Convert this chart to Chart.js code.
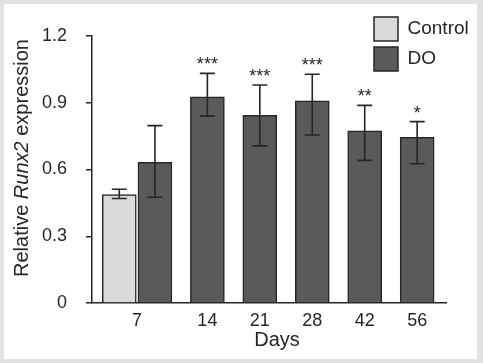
<!DOCTYPE html>
<html>
<head>
<meta charset="utf-8">
<script src="https://cdn.jsdelivr.net/npm/chart.js@4.4.1/dist/chart.umd.min.js"></script>
<style>
    body { margin: 0; background: #e2e2e2; }
    #frame { position: absolute; left: 4px; top: 4px; width: 473px; height: 355px; background: #fff; }
</style>
</head>
<body>
<div id="frame"><canvas id="runxChart" width="473" height="355"></canvas></div>
<script>
// Datos
var days = ['7', '14', '21', '28', '42', '56'];
var controlValues = [0.487];
var controlErrUp = [0.024];
var controlErrDown = [0.017];
var doValues = [0.632, 0.927, 0.843, 0.909, 0.774, 0.745];
var doErrUp = [0.165, 0.105, 0.137, 0.119, 0.114, 0.070];
var doErrDown = [0.157, 0.087, 0.137, 0.154, 0.133, 0.119];
var significance = ['', '***', '***', '***', '**', '*'];
var yTicks = [0, 0.3, 0.6, 0.9, 1.2];
var yTickLabels = ['0', '0.3', '0.6', '0.9', '1.2'];

var CONTROL_SHIFT = -0.68; // control bar sits left of the DO bar at day 7
var INK = '#262626';

Chart.defaults.font.family = '"Liberation Sans", Arial, sans-serif';
Chart.defaults.color = INK;

// posiciones de las etiquetas del eje x (dia 7 centrado entre las dos barras)
var xTickPos = days.map(function (d, i) { return i === 0 ? CONTROL_SHIFT / 2 : i; });

var errorBars = {
    id: 'errorBars',
    afterDatasetsDraw: function (chart) {
        var ctx = chart.ctx;
        var yScale = chart.scales.y;
        var sets = [
            { values: controlValues, up: controlErrUp, down: controlErrDown, stars: null },
            { values: doValues, up: doErrUp, down: doErrDown, stars: significance }
        ];
        ctx.save();
        ctx.strokeStyle = INK;
        ctx.lineWidth = 1.6;
        sets.forEach(function (s, di) {
            var meta = chart.getDatasetMeta(di);
            meta.data.forEach(function (bar, i) {
                var x = bar.x;
                var top = yScale.getPixelForValue(s.values[i] + s.up[i]);
                var bot = yScale.getPixelForValue(s.values[i] - s.down[i]);
                ctx.beginPath();
                ctx.moveTo(x, top); ctx.lineTo(x, bot);
                ctx.moveTo(x - 7.5, top); ctx.lineTo(x + 7.5, top);
                ctx.moveTo(x - 7.5, bot); ctx.lineTo(x + 7.5, bot);
                ctx.stroke();
                if (s.stars && s.stars[i]) {
                    ctx.fillStyle = INK;
                    ctx.font = '18px "Liberation Sans", Arial, sans-serif';
                    ctx.textAlign = 'center';
                    ctx.textBaseline = 'alphabetic';
                    ctx.fillText(s.stars[i], x, top - 3);
                }
            });
        });
        ctx.restore();
    }
};

var axisTitles = {
    id: 'axisTitles',
    afterDraw: function (chart) {
        var ctx = chart.ctx;
        ctx.save();
        ctx.fillStyle = INK;
        // titulo eje y con Runx2 en cursiva
        var parts = [
            { t: 'Relative ', f: '20px "Liberation Sans", Arial, sans-serif' },
            { t: 'Runx2', f: 'italic 20px "Liberation Sans", Arial, sans-serif' },
            { t: ' expression', f: '20px "Liberation Sans", Arial, sans-serif' }
        ];
        var total = 0;
        parts.forEach(function (p) { ctx.font = p.f; p.w = ctx.measureText(p.t).width; total += p.w; });
        ctx.translate(18, 154);
        ctx.rotate(-Math.PI / 2);
        ctx.textAlign = 'left';
        ctx.textBaseline = 'middle';
        var cx = -total / 2;
        parts.forEach(function (p) { ctx.font = p.f; ctx.fillText(p.t, cx, 0); cx += p.w; });
        ctx.restore();

        ctx.save();
        ctx.fillStyle = INK;
        ctx.font = '20px "Liberation Sans", Arial, sans-serif';
        ctx.textAlign = 'center';
        ctx.textBaseline = 'middle';
        ctx.fillText('Days', 273, 336);
        ctx.restore();
    }
};

var legendPlacer = {
    id: 'legendPlacer',
    afterLayout: function (chart) {
        var lg = chart.legend;
        lg.left = 364;
        lg.top = 7;
        lg.right = 473;
        lg.bottom = 90;
    }
};

var ctx = document.getElementById('runxChart').getContext('2d');
var chart = new Chart(ctx, {
    type: 'bar',
    data: {
        datasets: [{
            label: 'Control',
            data: controlValues.map(function (v, i) { return { x: i + CONTROL_SHIFT, y: v }; }),
            backgroundColor: '#dadada',
            borderColor: INK,
            borderWidth: 1.5,
            barThickness: 34,
            grouped: false
        }, {
            label: 'DO',
            data: doValues.map(function (v, i) { return { x: i, y: v }; }),
            backgroundColor: '#5a5a5a',
            borderColor: INK,
            borderWidth: 1.5,
            barThickness: 34,
            grouped: false
        }]
    },
    options: {
        responsive: false,
        animation: false,
        layout: { padding: { left: 0, right: 31, top: 32, bottom: 0 } },
        plugins: {
            legend: {
                position: 'chartArea',
                align: 'start',
                labels: {
                    boxWidth: 24,
                    boxHeight: 24,
                    padding: 6,
                    color: INK,
                    font: { size: 19 }
                }
            },
            tooltip: { enabled: false }
        },
        scales: {
            x: {
                type: 'linear',
                offset: false,
                min: -1.2,
                max: 5.55,
                afterBuildTicks: function (scale) {
                    scale.ticks = xTickPos.map(function (v) { return { value: v }; });
                },
                afterFit: function (scale) { scale.height = 56; },
                grid: { display: false, drawTicks: false, offset: false },
                border: { display: true, color: INK, width: 1.5 },
                ticks: {
                    autoSkip: false,
                    maxRotation: 0,
                    padding: 7,
                    color: INK,
                    font: { size: 18 },
                    callback: function (value, index) { return days[index]; }
                }
            },
            y: {
                min: 0,
                max: 1.2,
                afterBuildTicks: function (scale) {
                    scale.ticks = yTicks.map(function (v) { return { value: v }; });
                },
                afterFit: function (scale) { scale.width = 88; },
                grid: { display: true, drawOnChartArea: false, drawTicks: true, tickLength: 6, color: INK, lineWidth: 1.5 },
                border: { display: true, color: INK, width: 1.5 },
                ticks: {
                    padding: 19,
                    color: INK,
                    font: { size: 18 },
                    callback: function (value, index) { return yTickLabels[index]; }
                }
            }
        }
    },
    plugins: [errorBars, axisTitles, legendPlacer]
});
</script>
</body>
</html>
